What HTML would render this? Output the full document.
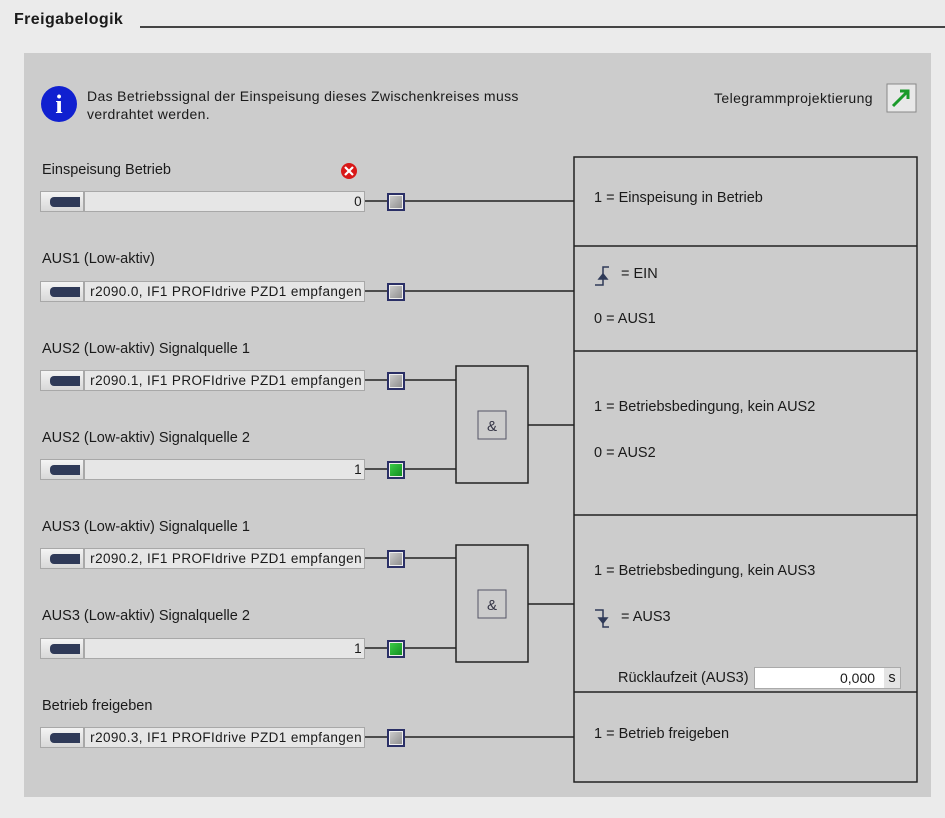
<!DOCTYPE html>
<html><head><meta charset="utf-8"><style>
*{margin:0;padding:0;box-sizing:border-box}
body{width:945px;height:818px;background:#ebebeb;font-family:"Liberation Sans",sans-serif;font-size:14.5px;color:#1a1a1a;position:relative;overflow:hidden}
.a{position:absolute;white-space:nowrap}
.panel{position:absolute;left:24px;top:53px;width:907px;height:744px;background:#cccccc}
.btn{position:absolute;width:44px;height:21px;background:linear-gradient(#f4f4f4,#d8d8d8);border:1px solid #a8a8a8}
.btn i{position:absolute;left:9px;top:5px;width:30px;height:10px;background:#2f3a58;border-radius:4px 0 0 4px}
.fld{position:absolute;height:21px;background:#e6e6e6;border:1px solid #a8a8a8;line-height:20px;padding:0 2px;text-align:right;overflow:hidden;font-size:13.5px;letter-spacing:0.4px;white-space:nowrap}
.sq{position:absolute;width:18px;height:18px;border:2px solid #2a2f66;background:linear-gradient(135deg,#d0d0d0,#8a8a8a);outline:1px solid #eee;outline-offset:-3px}
.sq.g{background:linear-gradient(135deg,#3ed04a,#0f8a1e)}
</style></head><body>
<div class="a" style="left:14px;top:11px;font-weight:bold;font-size:16px;letter-spacing:0.4px">Freigabelogik</div>
<div class="a" style="left:140px;top:26px;width:805px;height:2px;background:#444"></div>
<div class="panel"></div>
<svg class="a" style="left:0;top:0" width="945" height="818">
<circle cx="59" cy="104" r="18" fill="#1020d0"/>
<text x="59" y="113" text-anchor="middle" fill="#fff" font-family="Liberation Serif" font-weight="bold" font-size="26">i</text>
<circle cx="349" cy="171" r="8" fill="#d81818"/>
<path d="M345 167l8 8M353 167l-8 8" stroke="#fff" stroke-width="2.2"/>
<rect x="887" y="84" width="29" height="28" fill="#e8e8e8" stroke="#888"/>
<path d="M893 106l15-15M900 91h8v8" stroke="#1a9a2a" stroke-width="3" fill="none"/>
<g stroke="#222" stroke-width="1.5" fill="none">
<rect x="574" y="157" width="343" height="625"/>
<path d="M574 246H917M574 351H917M574 515H917M574 692H917"/>
<path d="M364 201H387M404 201H574M364 291H387M404 291H574M364 380H387M404 380H456M364 469H387M404 469H456M528 425H574M364 558H387M404 558H456M364 648H387M404 648H456M528 604H574M364 737H387M404 737H574"/>
<rect x="456" y="366" width="72" height="117"/>
<rect x="456" y="545" width="72" height="117"/>
</g>
<g stroke="#556" stroke-width="1" fill="none">
<rect x="478" y="411" width="28" height="28"/>
<rect x="478" y="590" width="28" height="28"/>
</g>
<text x="492" y="431" text-anchor="middle" font-size="15" fill="#334">&amp;</text>
<text x="492" y="610" text-anchor="middle" font-size="15" fill="#334">&amp;</text>
<g stroke="#2f3a58" stroke-width="1.5" fill="none">
<path d="M595 285h8v-18h6"/><path d="M599 279l4-5 4 5z" fill="#2f3a58"/>
<path d="M595 610h8v17h6"/><path d="M599 618l4 5 4-5z" fill="#2f3a58"/>
</g>
</svg>
<div class="a" style="left:87px;top:88px;font-size:14px;letter-spacing:0.35px">Das Betriebssignal der Einspeisung dieses Zwischenkreises muss</div>
<div class="a" style="left:87px;top:106px;font-size:14px;letter-spacing:0.35px">verdrahtet werden.</div>
<div class="a" style="left:714px;top:90px;font-size:14px;letter-spacing:0.4px">Telegrammprojektierung</div>

<div class="a" style="left:42px;top:162px">Einspeisung Betrieb</div>
<div class="btn" style="left:40px;top:191px"><i></i></div><div class="fld" style="left:84px;top:191px;width:281px">0</div><div class="sq" style="left:387px;top:193px"></div>

<div class="a" style="left:42px;top:251px">AUS1 (Low-aktiv)</div>
<div class="btn" style="left:40px;top:281px"><i></i></div><div class="fld" style="left:84px;top:281px;width:281px">r2090.0, IF1 PROFIdrive PZD1 empfangen</div><div class="sq" style="left:387px;top:283px"></div>

<div class="a" style="left:42px;top:341px">AUS2 (Low-aktiv) Signalquelle 1</div>
<div class="btn" style="left:40px;top:370px"><i></i></div><div class="fld" style="left:84px;top:370px;width:281px">r2090.1, IF1 PROFIdrive PZD1 empfangen</div><div class="sq" style="left:387px;top:372px"></div>

<div class="a" style="left:42px;top:430px">AUS2 (Low-aktiv) Signalquelle 2</div>
<div class="btn" style="left:40px;top:459px"><i></i></div><div class="fld" style="left:84px;top:459px;width:281px">1</div><div class="sq g" style="left:387px;top:461px"></div>

<div class="a" style="left:42px;top:519px">AUS3 (Low-aktiv) Signalquelle 1</div>
<div class="btn" style="left:40px;top:548px"><i></i></div><div class="fld" style="left:84px;top:548px;width:281px">r2090.2, IF1 PROFIdrive PZD1 empfangen</div><div class="sq" style="left:387px;top:550px"></div>

<div class="a" style="left:42px;top:608px">AUS3 (Low-aktiv) Signalquelle 2</div>
<div class="btn" style="left:40px;top:638px"><i></i></div><div class="fld" style="left:84px;top:638px;width:281px">1</div><div class="sq g" style="left:387px;top:640px"></div>

<div class="a" style="left:42px;top:698px">Betrieb freigeben</div>
<div class="btn" style="left:40px;top:727px"><i></i></div><div class="fld" style="left:84px;top:727px;width:281px">r2090.3, IF1 PROFIdrive PZD1 empfangen</div><div class="sq" style="left:387px;top:729px"></div>

<div class="a" style="left:594px;top:190px">1 = Einspeisung in Betrieb</div>
<div class="a" style="left:621px;top:266px">= EIN</div>
<div class="a" style="left:594px;top:311px">0 = AUS1</div>
<div class="a" style="left:594px;top:399px">1 = Betriebsbedingung, kein AUS2</div>
<div class="a" style="left:594px;top:445px">0 = AUS2</div>
<div class="a" style="left:594px;top:563px">1 = Betriebsbedingung, kein AUS3</div>
<div class="a" style="left:621px;top:609px">= AUS3</div>
<div class="a" style="left:618px;top:670px">Rücklaufzeit (AUS3)</div>
<div class="a" style="left:754px;top:667px;width:147px;height:22px;background:#fff;border:1px solid #aaa"></div>
<div class="a" style="left:840px;top:670px;font-size:14px">0,000</div>
<div class="a" style="left:884px;top:668px;width:16px;height:20px;background:#e4e4e4;text-align:center;line-height:20px">s</div>
<div class="a" style="left:594px;top:726px">1 = Betrieb freigeben</div>
</body></html>
